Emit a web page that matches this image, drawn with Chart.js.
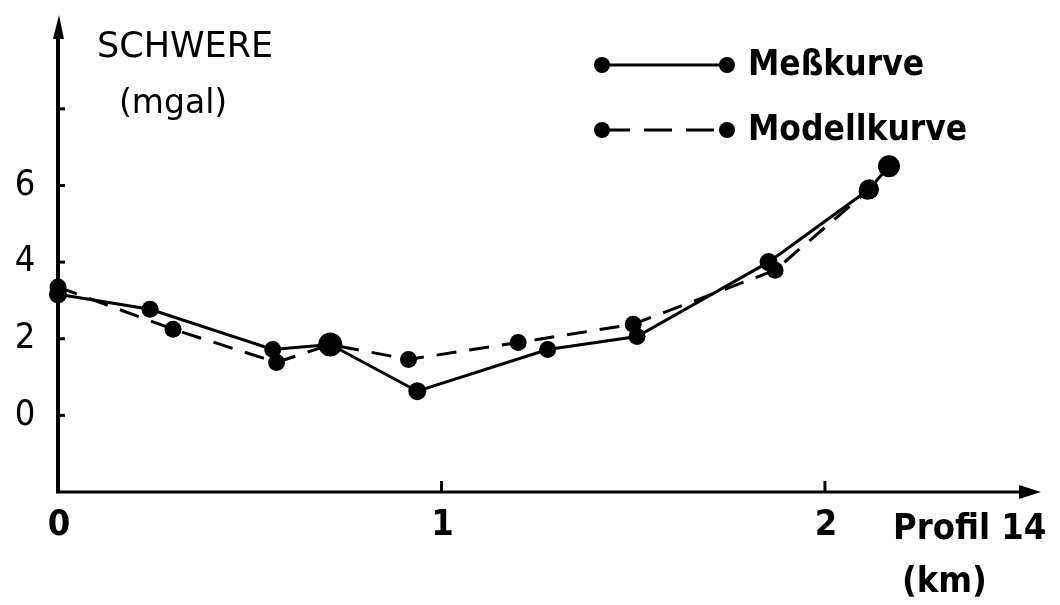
<!DOCTYPE html>
<html>
<head>
<meta charset="utf-8">
<title>Schwere – Profil 14</title>
<script src="https://cdn.jsdelivr.net/npm/chart.js@4/dist/chart.umd.min.js"></script>
<style>
  html, body { margin: 0; padding: 0; background: #fff; }
  #wrap { width: 1060px; height: 605px; }
</style>
</head>
<body>
<div id="wrap"><canvas id="c" width="1060" height="605"></canvas></div>
<script>
// Profile distance (km) and gravity (mgal) of the measured curve
const measKm   = [0, 0.24, 0.56, 0.71, 0.937, 1.277, 1.51, 1.853, 2.115, 2.167];
const measMgal = [3.16, 2.77, 1.72, 1.85, 0.63, 1.72, 2.06, 4.0, 5.9, 6.5];

// Profile distance (km) and gravity (mgal) of the model curve
const modelKm   = [0, 0.30, 0.57, 0.71, 0.914, 1.20, 1.50, 1.87, 2.11];
const modelMgal = [3.35, 2.25, 1.38, 1.85, 1.46, 1.90, 2.38, 3.79, 5.85];

// Axis ticks
const yTickMarks  = [0, 2, 4, 6, 8];
const yTickLabels = [0, 2, 4, 6];
const xTickMarks  = [1, 2];
const xTickLabels = [0, 1, 2];

const seriesNames = ['Meßkurve', 'Modellkurve'];

const NARROW = "'DejaVu Sans Condensed', 'Liberation Sans Narrow', 'DejaVu Sans', sans-serif";
const LETTER = "'DejaVu Sans', 'Liberation Sans', sans-serif";

function pts(xs, ys) { return xs.map((x, i) => ({ x: x, y: ys[i] })); }

// Axes with arrow heads, inward tick marks, tick labels, titles and the legend
const sketchPlugin = {
  id: 'sketch',
  afterDraw(chart) {
    const ctx = chart.ctx;
    const xs = chart.scales.x, ys = chart.scales.y;
    const x0 = xs.getPixelForValue(0);
    const yb = ys.getPixelForValue(ys.min);
    const yt = ys.getPixelForValue(ys.max);
    const xr = xs.getPixelForValue(xs.max);
    ctx.save();
    ctx.strokeStyle = '#000';
    ctx.fillStyle = '#000';
    ctx.lineCap = 'butt';

    // y axis
    ctx.lineWidth = 4;
    ctx.beginPath(); ctx.moveTo(x0, yb + 1); ctx.lineTo(x0, yt + 14); ctx.stroke();
    ctx.beginPath(); ctx.moveTo(x0 + 1, yt); ctx.lineTo(x0 - 5, yt + 24); ctx.lineTo(x0 + 6, yt + 24); ctx.closePath(); ctx.fill();
    // x axis
    ctx.lineWidth = 3;
    ctx.beginPath(); ctx.moveTo(x0 - 2, yb); ctx.lineTo(xr - 12, yb); ctx.stroke();
    ctx.beginPath(); ctx.moveTo(xr + 4, yb); ctx.lineTo(xr - 18, yb - 7); ctx.lineTo(xr - 18, yb + 7); ctx.closePath(); ctx.fill();

    // tick marks pointing into the plot
    ctx.lineWidth = 3;
    yTickMarks.forEach(v => {
      const p = ys.getPixelForValue(v);
      ctx.beginPath(); ctx.moveTo(x0, p); ctx.lineTo(x0 + 7, p); ctx.stroke();
    });
    xTickMarks.forEach(v => {
      const p = xs.getPixelForValue(v);
      ctx.beginPath(); ctx.moveTo(p, yb); ctx.lineTo(p, yb - 11); ctx.stroke();
    });

    // tick labels
    ctx.textBaseline = 'middle';
    ctx.textAlign = 'center';
    ctx.font = '36px ' + NARROW;
    yTickLabels.forEach(v => ctx.fillText(String(v), 25, ys.getPixelForValue(v)));
    ctx.font = 'bold 36px ' + NARROW;
    xTickLabels.forEach(v => ctx.fillText(String(v), xs.getPixelForValue(v) + 1, yb + 34));

    // axis titles
    ctx.textBaseline = 'alphabetic';
    ctx.textAlign = 'left';
    ctx.font = '35px ' + LETTER;
    ctx.fillText('SCHWERE', 97, 57);
    ctx.font = '33px ' + LETTER;
    ctx.fillText('(mgal)', 119, 113);
    ctx.font = 'bold 36px ' + NARROW;
    ctx.fillText('Profil 14', 893, 539);
    ctx.fillText('(km)', 902, 592);

    // legend
    const legend = [
      { y: 65, dash: [], name: seriesNames[0] },
      { y: 130, dash: [28, 14], name: seriesNames[1] }
    ];
    legend.forEach(l => {
      ctx.lineWidth = 3;
      ctx.setLineDash(l.dash);
      ctx.beginPath(); ctx.moveTo(602, l.y); ctx.lineTo(727, l.y); ctx.stroke();
      ctx.setLineDash([]);
      ctx.beginPath(); ctx.arc(602, l.y, 8, 0, Math.PI * 2); ctx.fill();
      ctx.beginPath(); ctx.arc(727, l.y, 8, 0, Math.PI * 2); ctx.fill();
      ctx.font = 'bold 35px ' + NARROW;
      ctx.textBaseline = 'middle';
      ctx.fillText(l.name, 748, l.y + 1);
    });
    ctx.restore();
  }
};

new Chart(document.getElementById('c'), {
  type: 'line',
  data: {
    datasets: [
      {
        label: seriesNames[0],
        data: pts(measKm, measMgal),
        borderColor: '#000',
        backgroundColor: '#000',
        borderWidth: 3,
        pointRadius: [9, 8.5, 8.5, 12, 9, 8.5, 8.5, 9, 10, 11],
        pointBorderWidth: 0,
        pointHoverRadius: 0,
        tension: 0,
        clip: false
      },
      {
        label: seriesNames[1],
        data: pts(modelKm, modelMgal),
        borderColor: '#000',
        backgroundColor: '#000',
        borderWidth: 3,
        borderDash: [20, 13],
        pointRadius: 8.5,
        pointBorderWidth: 0,
        pointHoverRadius: 0,
        tension: 0,
        clip: false
      }
    ]
  },
  options: {
    responsive: false,
    animation: false,
    layout: { padding: { left: 0, right: 23, top: 15, bottom: 0 } },
    plugins: { legend: { display: false }, tooltip: { enabled: false } },
    scales: {
      x: {
        type: 'linear',
        min: 0,
        max: 2.553,
        afterFit(s) { s.height = 113; },
        grid: { display: false },
        border: { display: false },
        ticks: { display: false }
      },
      y: {
        type: 'linear',
        min: -2,
        max: 10.45,
        afterFit(s) { s.width = 58; },
        grid: { display: false },
        border: { display: false },
        ticks: { display: false }
      }
    }
  },
  plugins: [sketchPlugin]
});
</script>
</body>
</html>
